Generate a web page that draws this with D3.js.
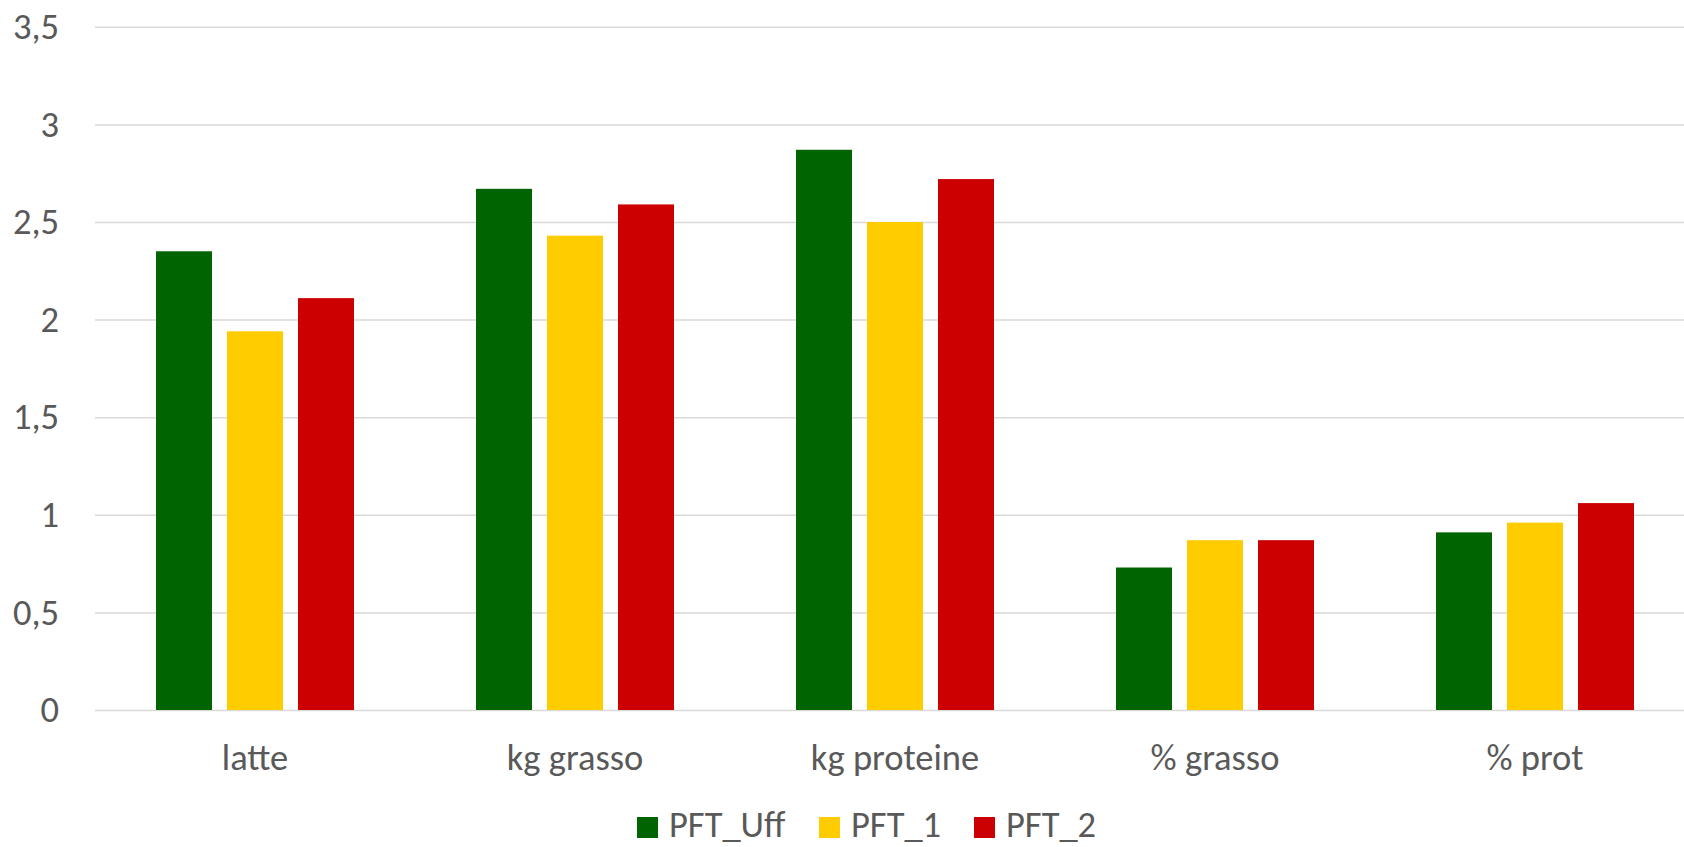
<!DOCTYPE html>
<html>
<head>
<meta charset="utf-8">
<script src="https://cdn.jsdelivr.net/npm/d3@7"></script>
<style>
  html, body { margin: 0; padding: 0; background: #ffffff; }
  svg { display: block; }
  text { font-family: Carlito, Lato, "Open Sans", sans-serif; fill: #595959; }
</style>
</head>
<body>
<svg id="chart" width="1684" height="847"></svg>
<script>
const categories = ["latte", "kg grasso", "kg proteine", "% grasso", "% prot"];
const seriesNames = ["PFT_Uff", "PFT_1", "PFT_2"];
const seriesColors = ["#006400", "#FFCC00", "#CC0000"];
const pftUff = [2.35, 2.67, 2.87, 0.73, 0.91];
const pft1   = [1.94, 2.43, 2.50, 0.87, 0.96];
const pft2   = [2.11, 2.59, 2.72, 0.87, 1.06];
const yTicks = [0, 0.5, 1, 1.5, 2, 2.5, 3, 3.5];

const seriesValues = [pftUff, pft1, pft2];
const itLocale = d3.formatLocale({decimal: ",", thousands: ".", grouping: [3], currency: ["", "€"]});
const fmt = itLocale.format("~g");
const FS = 36.5;

const svg = d3.select("#chart");
const plot = {left: 95, right: 1695, top: 26.8, bottom: 710};

const x0 = d3.scaleBand().domain(categories).range([plot.left, plot.right])
  .paddingInner(122 / 320).paddingOuter(61 / 320);
const x1 = d3.scaleBand().domain(seriesNames).range([0, x0.bandwidth()])
  .paddingInner(0.2113).paddingOuter(0);
const y = d3.scaleLinear().domain([0, 3.5]).range([plot.bottom, plot.top]);

// gridlines
const yAxis = d3.axisLeft(y).tickValues(yTicks).tickFormat(fmt)
  .tickSize(-(plot.right - plot.left)).tickPadding(36);
const gy = svg.append("g").attr("transform", `translate(${plot.left},0)`).call(yAxis);
gy.select(".domain").remove();
gy.selectAll(".tick line").attr("stroke", "#d9d9d9").attr("stroke-width", 1.5);
gy.selectAll(".tick text").attr("font-size", FS).attr("fill", "#595959")
  .style("font-family", "Carlito, Lato, 'Open Sans', sans-serif");

// bars
const groups = svg.append("g").selectAll("g").data(categories).join("g")
  .attr("transform", d => `translate(${x0(d)},0)`);
groups.selectAll("rect")
  .data((c, i) => seriesNames.map((s, j) => ({s, j, v: seriesValues[j][i]})))
  .join("rect")
  .attr("x", d => x1(d.s))
  .attr("width", x1.bandwidth())
  .attr("y", d => y(d.v))
  .attr("height", d => y(0) - y(d.v))
  .attr("fill", d => seriesColors[d.j]);

// category axis labels
const xAxis = d3.axisBottom(x0).tickSize(0).tickPadding(0);
const gx = svg.append("g").attr("transform", `translate(0,${plot.bottom})`).call(xAxis);
gx.select(".domain").remove();
gx.selectAll(".tick text").attr("font-size", FS).attr("fill", "#595959")
  .attr("y", 60).attr("dy", 0)
  .style("font-family", "Carlito, Lato, 'Open Sans', sans-serif");

// legend
const legendX = [637, 819, 974];
const legend = svg.append("g");
const items = legend.selectAll("g").data(seriesNames).join("g")
  .attr("transform", (d, i) => `translate(${legendX[i]},817)`);
items.append("rect").attr("width", 21).attr("height", 21)
  .attr("fill", (d, i) => seriesColors[i]);
items.append("text").attr("x", 32).attr("y", 20).attr("font-size", FS).text(d => d);
</script>
</body>
</html>
